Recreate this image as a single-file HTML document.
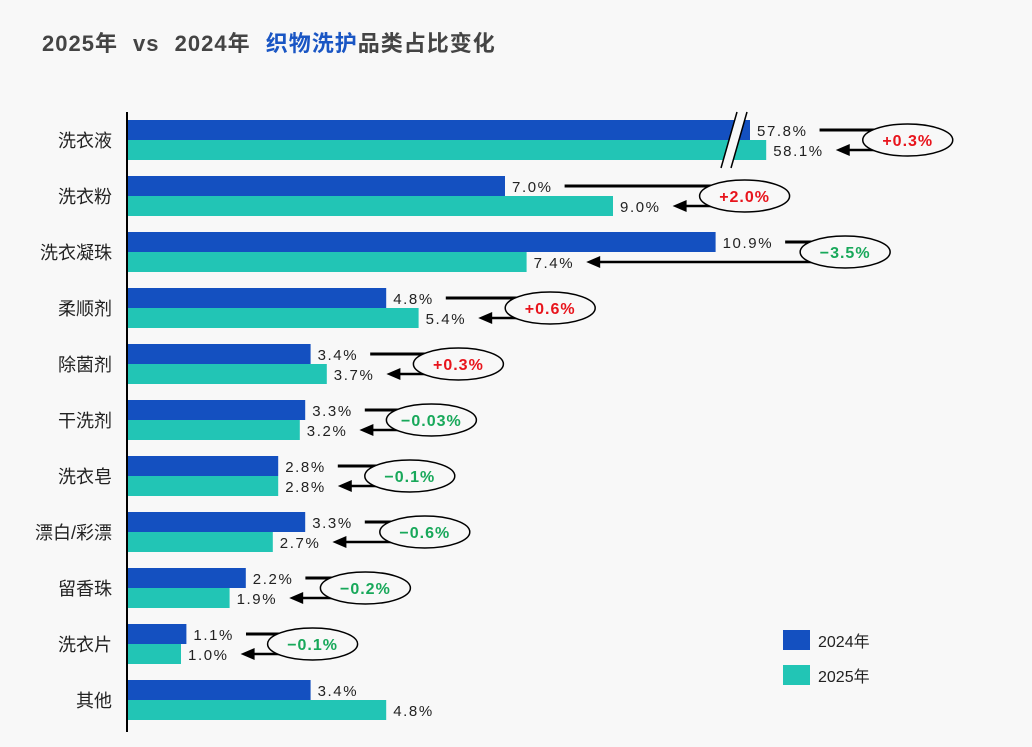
<!DOCTYPE html>
<html><head><meta charset="utf-8"><style>
body{margin:0;background:#f8f8f8;}
svg{display:block;font-family:"Liberation Sans","Noto Sans CJK SC",sans-serif;}
</style></head><body>
<svg id="c" width="1032" height="747" viewBox="0 0 1032 747">
<rect width="1032" height="747" fill="#f8f8f8"/>
<text x="42" y="51" font-size="22" font-weight="bold" fill="#444" word-spacing="8" letter-spacing="1">2025年 vs 2024年 <tspan fill="#1a56c4">织物洗护</tspan>品类占比变化</text>
<g id="plot"></g>
<line x1="127" y1="112" x2="127" y2="732" stroke="#000" stroke-width="2"/>
<rect x="783" y="630" width="27" height="20" fill="#1450c0"/>
<text x="818" y="647" font-size="16" fill="#222">2024年</text>
<rect x="783" y="665" width="27" height="20" fill="#22c5b5"/>
<text x="818" y="682" font-size="16" fill="#222">2025年</text>
</svg>
<script>
const categories=["洗衣液","洗衣粉","洗衣凝珠","柔顺剂","除菌剂","干洗剂","洗衣皂","漂白/彩漂","留香珠","洗衣片","其他"];
const values2024=[57.8,7.0,10.9,4.8,3.4,3.3,2.8,3.3,2.2,1.1,3.4];
const values2025=[58.1,9.0,7.4,5.4,3.7,3.2,2.8,2.7,1.9,1.0,4.8];
const diffs=["+0.3%","+2.0%","-3.5%","+0.6%","+0.3%","-0.03%","-0.1%","-0.6%","-0.2%","-0.1%",""];
const NS="http://www.w3.org/2000/svg";
const g=document.getElementById('plot');
const X0=127,K=54;
function xs(v){return v>20?750+(v-57.8)*54:X0+v*K;}
function yc(i){return 140+i*56;}
function mk(t,a,p){const e=document.createElementNS(NS,t);for(const k in a)e.setAttribute(k,a[k]);(p||g).appendChild(e);return e;}
categories.forEach((c,i)=>{
  const y=yc(i);
  const t=mk('text',{x:112,y:y+7,'font-size':18,'text-anchor':'end',fill:'#222'});
  t.textContent=c;
  
  
  const x1=xs(values2024[i]),x2=xs(values2025[i]);
  const b1=mk('rect',{x:X0,y:y-20,width:x1-X0,height:20,fill:'#1450c0'});
  
  
  const b2=mk('rect',{x:X0,y:y,width:x2-X0,height:20,fill:'#22c5b5'});
  
  
  const l1=mk('text',{x:x1+7,y:y-4,'font-size':15,fill:'#222','letter-spacing':'1.6'});
  l1.textContent=values2024[i].toFixed(1)+'%';
  
  
  const l2=mk('text',{x:x2+7,y:y+16,'font-size':15,fill:'#222','letter-spacing':'1.6'});
  l2.textContent=values2025[i].toFixed(1)+'%';
  
  
  if(diffs[i]){
    const e1=l1.getComputedTextLength()+x1+7, e2=l2.getComputedTextLength()+x2+7;
    const ls=e1+12, tip=e2+12;
    const el=Math.max(ls+15,tip+27), cx=el+45;
    const ln=mk('line',{x1:ls,y1:y-10,x2:cx,y2:y-10,stroke:'#000','stroke-width':3});
    
    
    const ar=mk('line',{x1:tip+12,y1:y+10,x2:cx,y2:y+10,stroke:'#000','stroke-width':2.5});
    
    
    const ah=mk('polygon',{points:`${tip},${y+10} ${tip+14},${y+4} ${tip+14},${y+16}`,fill:'#000'});
    
    
    const ov=mk('ellipse',{cx:cx,cy:y,rx:45,ry:16,fill:'#f8f8f8',stroke:'#000','stroke-width':1.5});
    
    
    const dt=mk('text',{x:cx,y:y+6,'font-size':16,'font-weight':'bold','text-anchor':'middle','letter-spacing':'1',fill:diffs[i][0]=='+'?'#e8141c':'#18a85a'});
    dt.textContent=diffs[i].replace('-','−');
    
    
  }
});
const br=mk('polygon',{points:"737,112 747,112 731,168 721,168",fill:'#f8f8f8'});


const bl1=mk('line',{x1:737,y1:112,x2:721,y2:168,stroke:'#000','stroke-width':1.5});


const bl2=mk('line',{x1:747,y1:112,x2:731,y2:168,stroke:'#000','stroke-width':1.5});


</script>
</body></html>
